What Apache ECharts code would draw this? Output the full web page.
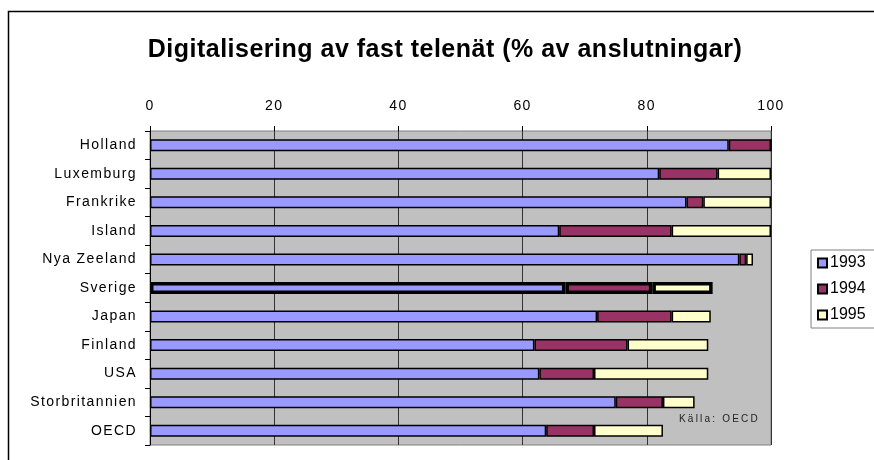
<!DOCTYPE html>
<html>
<head>
<meta charset="utf-8">
<script src="https://cdn.jsdelivr.net/npm/echarts@6/dist/echarts.min.js"></script>
<style>
  html, body { margin: 0; padding: 0; background: #fff; }
  #chart { width: 874px; height: 460px; }
</style>
</head>
<body>
<div id="chart"></div>
<script>
// Andel digitaliserade anslutningar i fasta telenät, per land och år (%)
const categories = ['Holland', 'Luxemburg', 'Frankrike', 'Island', 'Nya Zeeland', 'Sverige',
  'Japan', 'Finland', 'USA', 'Storbritannien', 'OECD'];
// Värden per år: 1993 är nivån, 1994 och 1995 är ökningen det året
const v1993 = [93.2, 82.0, 86.4, 65.9, 94.9, 66.9, 72.0, 61.9, 62.7, 75.0, 63.8];
const v1994 = [6.8, 9.4, 2.7, 18.1, 1.1, 14.0, 12.0, 15.0, 8.8, 7.6, 7.7];
const v1995 = [0, 8.6, 10.9, 16.0, 1.1, 9.7, 6.3, 13.0, 18.4, 5.1, 11.1];
const years = ['1993', '1994', '1995'];
const xTicks = [0, 20, 40, 60, 80, 100];
const highlighted = 'Sverige';

const colors = ['#9999FF', '#993366', '#FFFFCC'];
const font = 'Liberation Sans, Arial, sans-serif';

// Spärrad text: extra teckenavstånd beroende på teckenstorlek
const trackingBySize = { 10: 2.2, 14: 1.4, 25: 0.5 };
(function addTracking() {
  const proto = CanvasRenderingContext2D.prototype;
  if (!('letterSpacing' in proto)) return;
  const fill = proto.fillText;
  proto.fillText = function (text, x, y, maxWidth) {
    const m = /(\d+(?:\.\d+)?)px/.exec(this.font);
    const extra = m ? trackingBySize[Math.round(parseFloat(m[1]))] : 0;
    const prev = this.letterSpacing;
    this.letterSpacing = (extra || 0) + 'px';
    if (maxWidth === undefined) fill.call(this, text, x, y);
    else fill.call(this, text, x, y, maxWidth);
    this.letterSpacing = prev;
  };
})();

function seriesFor(name, values, color) {
  return {
    name: name,
    type: 'bar',
    stack: 'total',
    barWidth: 12,
    itemStyle: { color: color, borderColor: '#000', borderWidth: 1.5 },
    data: values.map((v, i) => categories[i] === highlighted
      ? { value: v, itemStyle: { borderWidth: 3.5 } }
      : v)
  };
}

const chart = echarts.init(document.getElementById('chart'), null, { renderer: 'canvas' });
chart.setOption({
  animation: false,
  textStyle: { fontFamily: font },
  title: {
    text: 'Digitalisering av fast telenät (% av anslutningar)',
    left: 440, top: 33, textAlign: 'center',
    textStyle: { fontSize: 25, fontWeight: 'bold', color: '#000', fontFamily: font }
  },
  graphic: [
    { type: 'rect', shape: { x: 8.5, y: 11.5, width: 900, height: 500 },
      style: { fill: 'none', stroke: '#000', lineWidth: 1.5 }, silent: true, z: 100 },
    { type: 'text', left: 679, top: 414,
      style: { text: 'Källa: OECD', fontSize: 10, fill: '#222', fontFamily: font }, z: 100 }
  ],
  legend: {
    data: years,
    orient: 'vertical',
    left: 811, top: 250,
    icon: 'rect',
    itemWidth: 9, itemHeight: 9, itemGap: 10,
    padding: [5, 20, 5, 6],
    borderColor: '#808080', borderWidth: 1,
    textStyle: { fontSize: 16, color: '#000', fontFamily: font, padding: [0, 0, 0, -2] }
  },
  grid: {
    left: 150, top: 131, right: 103, bottom: 15,
    show: true, backgroundColor: '#C0C0C0', borderColor: '#808080', borderWidth: 1
  },
  xAxis: {
    type: 'value',
    position: 'top',
    min: xTicks[0], max: xTicks[xTicks.length - 1], interval: xTicks[1] - xTicks[0],
    axisLine: { show: false },
    axisTick: { show: true, length: 5, lineStyle: { color: '#000' } },
    axisLabel: { fontSize: 14, color: '#000', margin: 18, fontFamily: font },
    splitLine: { show: true, lineStyle: { color: '#333', width: 1 } }
  },
  yAxis: {
    type: 'category',
    data: categories,
    inverse: true,
    axisLine: { show: true, lineStyle: { color: '#000', width: 1 } },
    axisTick: { show: true, length: 5, lineStyle: { color: '#000' } },
    axisLabel: { fontSize: 14, color: '#000', margin: 13, fontFamily: font }
  },
  series: [
    seriesFor(years[0], v1993, colors[0]),
    seriesFor(years[1], v1994, colors[1]),
    seriesFor(years[2], v1995, colors[2])
  ]
});
</script>
</body>
</html>
